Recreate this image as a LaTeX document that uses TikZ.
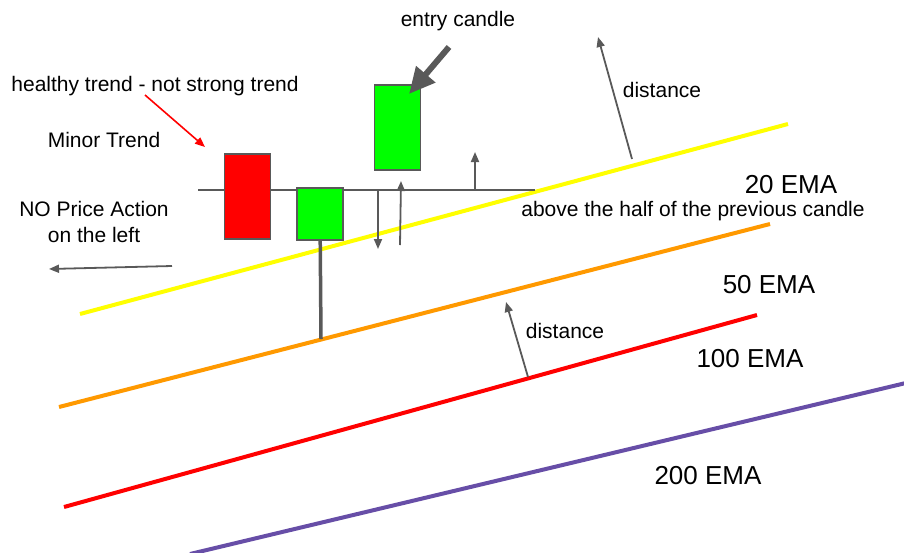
\documentclass[tikz,border=0pt]{standalone}
\usepackage{fontspec}
\setmainfont{Liberation Sans}
\usetikzlibrary{arrows.meta,positioning}
\definecolor{lineGray}{HTML}{595959}
\definecolor{candleGreen}{HTML}{00FF00}
\definecolor{candleRed}{HTML}{FF0000}
\definecolor{emaYellow}{HTML}{FFFF00}
\definecolor{emaOrange}{HTML}{FF9900}
\definecolor{emaRed}{HTML}{FF0000}
\definecolor{emaPurple}{HTML}{674EA7}

\begin{document}
\begin{tikzpicture}[
  x=1pt, y=-1pt,
  candle/.style={draw=lineGray, line width=1.8pt, inner sep=0pt,
                 minimum width=46pt},
  bull/.style={candle, fill=candleGreen},
  bear/.style={candle, fill=candleRed},
  ema/.style={line width=4pt},
  lbl/.style={anchor=base, inner sep=0pt, font=\fontsize{21}{25}\selectfont},
  emalbl/.style={lbl, font=\fontsize{26}{30}\selectfont},
  pointer/.style={draw=lineGray, line width=1.8pt,
                  -{Triangle[length=10pt,width=8pt]}},
]
\useasboundingbox (0,0) rectangle (904,552);

% EMA lines
\coordinate (y1) at (80,314);   \coordinate (y2) at (788,124);
\coordinate (o1) at (59,407);   \coordinate (o2) at (770,224);
\coordinate (r1) at (64,507);   \coordinate (r2) at (757,315);
\coordinate (p1) at (190,554);  \coordinate (p2) at (910,382);
\draw[ema, emaYellow] (y1) -- (y2);
\draw[ema, emaOrange] (o1) -- (o2);
\draw[ema, emaRed]    (r1) -- (r2);
\draw[ema, emaPurple] (p1) -- (p2);

% Level line
\coordinate (lvlL) at (198,190);
\coordinate (lvlR) at (535,190);
\draw[lineGray, line width=1.8pt] (lvlL) -- (lvlR);

% Candles
\coordinate (wickEnd) at (321,339);
\draw[lineGray, line width=3.5pt] (320,214) -- (wickEnd);
\node[bear, minimum height=85pt] (c1) at (247.5,196.5) {};
\node[bull, minimum height=52pt] (c2) at (320,214) {};
\node[bull, minimum height=85pt] (entry) at (397.5,127.5) {};

% Arrows at the level
\coordinate (dnTop) at (378,190);  \coordinate (dnBot) at (378,249);
\coordinate (upBot) at (400,245);  \coordinate (upTop) at (401,181);
\coordinate (hiBot) at (475,190);  \coordinate (hiTop) at (475,152);
\draw[pointer] (dnTop) -- (dnBot);
\draw[pointer] (upBot) -- (upTop);
\draw[pointer] (hiBot) -- (hiTop);

% Distance arrows
\coordinate (d1Bot) at (632,159);  \coordinate (d1Top) at (598,37);
\coordinate (d2Bot) at (528,377);  \coordinate (d2Top) at (506,302);
\draw[pointer] (d1Bot) -- (d1Top);
\draw[pointer] (d2Bot) -- (d2Top);

% Left arrow
\coordinate (leftTail) at (172,266);
\coordinate (leftTip) at (49,269);
\draw[pointer] (leftTail) -- (leftTip);

% Entry pointer
\coordinate (bigTail) at (449,47);
\coordinate (bigTip) at (409,94);
\draw[lineGray, line width=6pt, -{Triangle[length=26pt,width=24pt]}]
  (bigTail) -- (bigTip);

% Trend pointer
\coordinate (trTail) at (145,95);
\coordinate (trTip) at (205,147);
\draw[candleRed, line width=1.6pt, -{Triangle[length=10pt,width=8pt]}]
  (trTail) -- (trTip);

% Labels
\node[lbl] (tEntry) at (458,26) {entry candle};
\node[lbl] (tHealthy) at (155,91) {healthy trend - not strong trend};
\node[lbl] (tMinor) at (104,147) {Minor Trend};
\node[lbl] (tNoPA) at (94,216) {NO Price Action};
\node[lbl] (tLeft) at (94,242) {on the left};
\node[lbl] (tAbove) at (693,216) {above the half of the previous candle};
\node[lbl] (tDist1) at (662,97) {distance};
\node[lbl] (tDist2) at (565,338) {distance};
\node[emalbl] (t20) at (791,193) {20 EMA};
\node[emalbl] (t50) at (769,293) {50 EMA};
\node[emalbl] (t100) at (750,367) {100 EMA};
\node[emalbl] (t200) at (708,484) {200 EMA};

\end{tikzpicture}
\end{document}
